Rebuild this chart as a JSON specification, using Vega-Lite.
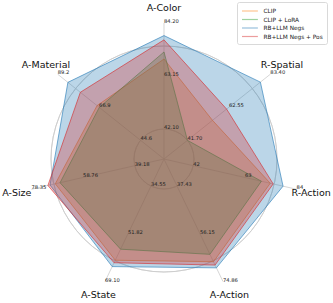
{
  "$schema": "https://vega.github.io/schema/vega-lite/v6.json",
  "width": 333,
  "height": 303,
  "autosize": "none",
  "padding": 0,
  "background": "white",
  "config": {"view": {"stroke": null}, "font": "DejaVu Sans"},
  "datasets": {
    "axes": [
      {"axis": "A-Color", "idx": 0, "max": 84.20},
      {"axis": "R-Spatial", "idx": 1, "max": 83.40},
      {"axis": "R-Action", "idx": 2, "max": 84},
      {"axis": "A-Action", "idx": 3, "max": 74.86},
      {"axis": "A-State", "idx": 4, "max": 69.10},
      {"axis": "A-Size", "idx": 5, "max": 78.35},
      {"axis": "A-Material", "idx": 6, "max": 89.2}
    ],
    "rings": [{"frac": 0.5}, {"frac": 0.75}, {"frac": 1}],
    "ticks": [
      {"axis": "A-Color", "frac": 0.5, "label": "42.10"},
      {"axis": "A-Color", "frac": 0.75, "label": "63.15"},
      {"axis": "A-Color", "frac": 1, "label": "84.20"},
      {"axis": "R-Spatial", "frac": 0.5, "label": "41.70"},
      {"axis": "R-Spatial", "frac": 0.75, "label": "62.55"},
      {"axis": "R-Spatial", "frac": 1, "label": "83.40"},
      {"axis": "R-Action", "frac": 0.5, "label": "42"},
      {"axis": "R-Action", "frac": 0.75, "label": "63"},
      {"axis": "R-Action", "frac": 1, "label": "84"},
      {"axis": "A-Action", "frac": 0.5, "label": "37.43"},
      {"axis": "A-Action", "frac": 0.75, "label": "56.15"},
      {"axis": "A-Action", "frac": 1, "label": "74.86"},
      {"axis": "A-State", "frac": 0.5, "label": "34.55"},
      {"axis": "A-State", "frac": 0.75, "label": "51.82"},
      {"axis": "A-State", "frac": 1, "label": "69.10"},
      {"axis": "A-Size", "frac": 0.5, "label": "39.18"},
      {"axis": "A-Size", "frac": 0.75, "label": "58.76"},
      {"axis": "A-Size", "frac": 1, "label": "78.35"},
      {"axis": "A-Material", "frac": 0.5, "label": "44.6"},
      {"axis": "A-Material", "frac": 0.75, "label": "66.9"},
      {"axis": "A-Material", "frac": 1, "label": "89.2"}
    ],
    "scores": [
      {"method": "CLIP", "axis": "A-Color", "value": 69.9},
      {"method": "CLIP", "axis": "R-Spatial", "value": 54.3},
      {"method": "CLIP", "axis": "R-Action", "value": 73.3},
      {"method": "CLIP", "axis": "A-Action", "value": 67.1},
      {"method": "CLIP", "axis": "A-State", "value": 61.4},
      {"method": "CLIP", "axis": "A-Size", "value": 69.3},
      {"method": "CLIP", "axis": "A-Material", "value": 68.0},
      {"method": "CLIP + LoRA", "axis": "A-Color", "value": 72.7},
      {"method": "CLIP + LoRA", "axis": "R-Spatial", "value": 41.7},
      {"method": "CLIP + LoRA", "axis": "R-Action", "value": 69.7},
      {"method": "CLIP + LoRA", "axis": "A-Action", "value": 64.2},
      {"method": "CLIP + LoRA", "axis": "A-State", "value": 57.4},
      {"method": "CLIP + LoRA", "axis": "A-Size", "value": 67.5},
      {"method": "CLIP + LoRA", "axis": "A-Material", "value": 66.8},
      {"method": "RB+LLM Negs", "axis": "A-Color", "value": 79.2},
      {"method": "RB+LLM Negs", "axis": "R-Spatial", "value": 78.4},
      {"method": "RB+LLM Negs", "axis": "R-Action", "value": 78.5},
      {"method": "RB+LLM Negs", "axis": "A-Action", "value": 69.5},
      {"method": "RB+LLM Negs", "axis": "A-State", "value": 63.7},
      {"method": "RB+LLM Negs", "axis": "A-Size", "value": 71.3},
      {"method": "RB+LLM Negs", "axis": "A-Material", "value": 83.7},
      {"method": "RB+LLM Negs + Pos", "axis": "A-Color", "value": 77.5},
      {"method": "RB+LLM Negs + Pos", "axis": "R-Spatial", "value": 61.4},
      {"method": "RB+LLM Negs + Pos", "axis": "R-Action", "value": 74.5},
      {"method": "RB+LLM Negs + Pos", "axis": "A-Action", "value": 68.4},
      {"method": "RB+LLM Negs + Pos", "axis": "A-State", "value": 62.3},
      {"method": "RB+LLM Negs + Pos", "axis": "A-Size", "value": 72.1},
      {"method": "RB+LLM Negs + Pos", "axis": "A-Material", "value": 77.0}
    ]
  },
  "layer": [
    {
      "data": {"name": "rings"},
      "transform": [{"calculate": "(datum.frac - 0.3585) / 0.6415", "as": "rr"}],
      "mark": {"type": "arc", "theta": 0, "theta2": 6.2832, "filled": false, "fill": null, "stroke": "#cccccc", "strokeWidth": 0.8},
      "encoding": {
        "x": {"datum": 0, "type": "quantitative", "scale": {"domain": [-1.20588, 1.24265], "nice": false, "zero": false}, "axis": null},
        "y": {"datum": 0, "type": "quantitative", "scale": {"domain": [-1.05882, 1.16912], "nice": false, "zero": false}, "axis": null},
        "radius": {"field": "rr", "type": "quantitative", "scale": {"type": "linear", "domain": [0, 1], "range": [0, 136], "zero": true}}
      }
    },
    {
      "data": {"name": "axes"},
      "transform": [
        {"calculate": "datum.idx * 2 * PI / 7", "as": "th"},
        {"calculate": "sin(datum.th)", "as": "sx"},
        {"calculate": "cos(datum.th)", "as": "sy"},
        {"calculate": "0", "as": "z"}
      ],
      "mark": {"type": "rule", "stroke": "#cccccc", "strokeWidth": 0.8},
      "encoding": {
        "x": {"field": "z", "type": "quantitative", "scale": {"domain": [-1.20588, 1.24265], "nice": false, "zero": false}, "axis": null},
        "y": {"field": "z", "type": "quantitative", "scale": {"domain": [-1.05882, 1.16912], "nice": false, "zero": false}, "axis": null},
        "x2": {"field": "sx"},
        "y2": {"field": "sy"}
      }
    },
    {
      "data": {"name": "scores"},
      "transform": [
        {"lookup": "axis", "from": {"data": {"name": "axes"}, "key": "axis", "fields": ["idx", "max"]}},
        {"calculate": "datum.idx * 2 * PI / 7", "as": "th"},
        {"calculate": "(datum.value / datum.max - 0.3585) / 0.6415", "as": "r"},
        {"calculate": "datum.r * sin(datum.th)", "as": "px"},
        {"calculate": "datum.r * cos(datum.th)", "as": "py"}
      ],
      "mark": {"type": "line", "interpolate": "linear-closed", "strokeWidth": 1, "fillOpacity": 0.3, "strokeOpacity": 0.6},
      "encoding": {
        "x": {"field": "px", "type": "quantitative", "scale": {"domain": [-1.20588, 1.24265], "nice": false, "zero": false}, "axis": null},
        "y": {"field": "py", "type": "quantitative", "scale": {"domain": [-1.05882, 1.16912], "nice": false, "zero": false}, "axis": null},
        "order": {"field": "idx", "type": "quantitative"},
        "stroke": {
          "field": "method", "type": "nominal",
          "scale": {"domain": ["CLIP", "CLIP + LoRA", "RB+LLM Negs", "RB+LLM Negs + Pos"], "range": ["#ff7f0e", "#2ca02c", "#1f77b4", "#d62728"]},
          "legend": {"orient": "none", "legendX": 237, "legendY": 2, "title": null, "symbolType": "M-0.95,0H2.8", "symbolStrokeWidth": 1.2, "symbolOpacity": 0.45, "symbolSize": 72, "labelFontSize": 5.8, "labelFont": "DejaVu Sans", "labelColor": "#222222", "fillColor": "white", "strokeColor": "#d9d9d9", "cornerRadius": 2, "padding": 4, "rowPadding": 0.5, "labelOffset": 12.5}
        },
        "fill": {
          "field": "method", "type": "nominal",
          "scale": {"domain": ["CLIP", "CLIP + LoRA", "RB+LLM Negs", "RB+LLM Negs + Pos"], "range": ["#ff7f0e", "#2ca02c", "#1f77b4", "#d62728"]},
          "legend": {"orient": "none", "legendX": 237, "legendY": 2, "title": null, "symbolType": "M-0.95,0H2.8", "symbolStrokeWidth": 1.2, "symbolOpacity": 0.45, "symbolSize": 72, "labelFontSize": 5.8, "labelFont": "DejaVu Sans", "labelColor": "#222222", "fillColor": "white", "strokeColor": "#d9d9d9", "cornerRadius": 2, "padding": 4, "rowPadding": 0.5, "labelOffset": 12.5}
        }
      }
    },
    {
      "data": {"name": "ticks"},
      "transform": [
        {"lookup": "axis", "from": {"data": {"name": "axes"}, "key": "axis", "fields": ["idx"]}},
        {"calculate": "datum.idx * 2 * PI / 7", "as": "th"},
        {"calculate": "(datum.frac - 0.3585) / 0.6415", "as": "r"},
        {"calculate": "datum.r * sin(datum.th)", "as": "px"},
        {"calculate": "datum.r * cos(datum.th)", "as": "py"}
      ],
      "mark": {"type": "text", "align": "left", "baseline": "alphabetic", "fontSize": 5.2, "fill": "#222222"},
      "encoding": {
        "x": {"field": "px", "type": "quantitative", "scale": {"domain": [-1.20588, 1.24265], "nice": false, "zero": false}, "axis": null},
        "y": {"field": "py", "type": "quantitative", "scale": {"domain": [-1.05882, 1.16912], "nice": false, "zero": false}, "axis": null},
        "text": {"field": "label"}
      }
    },
    {
      "data": {"name": "axes"},
      "transform": [
        {"calculate": "datum.idx * 2 * PI / 7", "as": "th"},
        {"calculate": "1.11 * sin(datum.th)", "as": "px"},
        {"calculate": "1.11 * cos(datum.th)", "as": "py"}
      ],
      "mark": {"type": "text", "align": "center", "baseline": "middle", "fontSize": 9.5, "fill": "#111111"},
      "encoding": {
        "x": {"field": "px", "type": "quantitative", "scale": {"domain": [-1.20588, 1.24265], "nice": false, "zero": false}, "axis": null},
        "y": {"field": "py", "type": "quantitative", "scale": {"domain": [-1.05882, 1.16912], "nice": false, "zero": false}, "axis": null},
        "text": {"field": "axis"}
      }
    }
  ]
}
